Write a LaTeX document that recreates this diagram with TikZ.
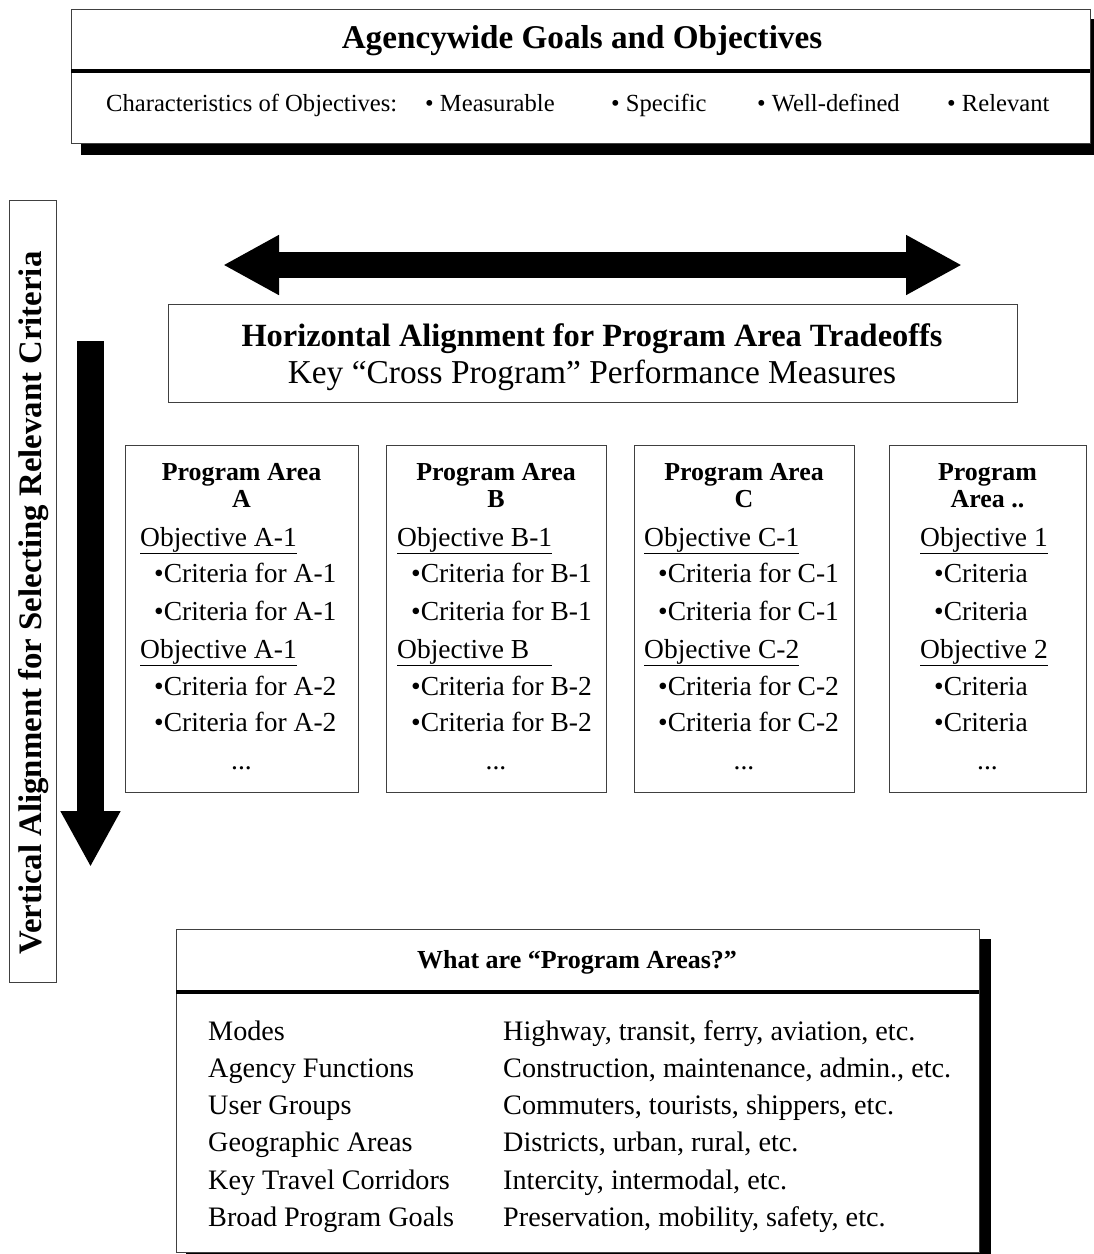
\documentclass[tikz,border=0pt]{standalone}
\usepackage{fontspec}
\setmainfont{Liberation Serif}
\usepackage{tikz}
\usetikzlibrary{arrows.meta, positioning, calc}

\newcommand{\fsTitle}{\fontsize{33.2}{36}\selectfont\bfseries}
\newcommand{\fsChar}{\fontsize{24.6}{26}\selectfont}
\newcommand{\fsHorA}{\fontsize{32.4}{34}\selectfont\bfseries}
\newcommand{\fsHorB}{\fontsize{33.4}{34}\selectfont}
\newcommand{\fsVert}{\fontsize{32.8}{34}\selectfont\bfseries}
\newcommand{\fsHead}{\fontsize{25.9}{30}\selectfont\bfseries}
\newcommand{\fsArea}{\fontsize{27.5}{30}\selectfont}
\newcommand{\fsWhat}{\fontsize{26}{27}\selectfont\bfseries}
\newcommand{\fsRow}{\fontsize{28.2}{30}\selectfont}

\tikzset{
  frame/.style={draw=black!75, line width=1.3pt, fill=white, inner sep=0pt},
  shadefill/.style={fill=black},
  bar/.style={line width=3.5pt},
  txt/.style={inner sep=0pt, anchor=base west},
  ctxt/.style={inner sep=0pt, anchor=base},
  fatline/.style={line width=26pt},
  fattip/.tip={Triangle[length=56pt, width=56pt]},
}

\begin{document}
\begin{tikzpicture}[x=1pt, y=-1pt]
\useasboundingbox (0,0) rectangle (1094,1254);

% top box
\fill[shadefill] (81,19) rectangle (1094,155);
\node[frame, minimum width=1019, minimum height=134, anchor=north west] (goals) at (71,9) {};
\draw[bar] (71,71) -- (1090,71);
\node[ctxt] (goalstitle) at (582,48) {\fsTitle Agencywide Goals and Objectives};
\node[txt] (charlbl) at (106,111) {\fsChar Characteristics of Objectives:};
\node[txt] (chm) at (425,111) {\fsChar \textbullet\ Measurable};
\node[txt] (chs) at (611,111) {\fsChar \textbullet\ Specific};
\node[txt] (chw) at (757,111) {\fsChar \textbullet\ Well-defined};
\node[txt] (chr) at (947,111) {\fsChar \textbullet\ Relevant};

% vertical alignment
\node[frame, minimum width=47, minimum height=782, anchor=north west] (vbox) at (9,200) {};
\node[inner sep=0pt, rotate=90] (vtext) at (34,603) {\fsVert Vertical Alignment for Selecting Relevant Criteria};
\coordinate (vtop) at (90.5,341);
\coordinate (vtip) at (90.5,867);
\draw[fatline, line width=27pt, -{fattip}] (vtop) -- (vtip);

% horizontal alignment
\coordinate (hleft) at (223,265);
\coordinate (hright) at (962,265);
\draw[fatline, {fattip}-{fattip}] (hleft) -- (hright);
\node[frame, minimum width=849, minimum height=98, anchor=north west] (hbox) at (168,304) {};
\node[ctxt] (hline1) at (592,346) {\fsHorA Horizontal Alignment for Program Area Tradeoffs};
\node[ctxt] (hline2) at (592,383) {\fsHorB Key “Cross Program” Performance Measures};

% program areas
\foreach \p/\lx/\rx/\ox/\hda/\hdb/\oba/\obb/\cra/\crb in {
    a/125/358/15/Program Area/A/Objective A-1/Objective A-1/Criteria for A-1/Criteria for A-2,
    b/386/606/11/Program Area/B/Objective B-1/{Objective B\phantom{-1}}/Criteria for B-1/Criteria for B-2,
    c/634/854/10/Program Area/C/Objective C-1/Objective C-2/Criteria for C-1/Criteria for C-2,
    d/889/1086/31/Program/Area ../Objective 1/Objective 2/Criteria/Criteria}
{
  \node[frame, minimum width=\rx-\lx, minimum height=347, anchor=north west] (pa\p) at (\lx,445) {};
  \node[ctxt] (pa\p h1) at ({(\lx+\rx)/2},480) {\fsHead \hda};
  \node[ctxt] (pa\p h2) at ({(\lx+\rx)/2},507) {\fsHead \hdb};
  \node[txt] (pa\p o1) at (\lx+\ox,546) {\fsArea\underline{\oba}};
  \node[txt] (pa\p c1) at (\lx+\ox+14,582) {\fsArea\textbullet\cra};
  \node[txt] (pa\p c2) at (\lx+\ox+14,620) {\fsArea\textbullet\cra};
  \node[txt] (pa\p o2) at (\lx+\ox,658) {\fsArea\underline{\obb}};
  \node[txt] (pa\p c3) at (\lx+\ox+14,695) {\fsArea\textbullet\crb};
  \node[txt] (pa\p c4) at (\lx+\ox+14,731) {\fsArea\textbullet\crb};
  \node[ctxt] (pa\p dd) at ({(\lx+\rx)/2},769) {\fsArea ...};
}

% what are program areas
\fill[shadefill] (186,939) rectangle (991,1262);
\node[frame, minimum width=803, minimum height=323, anchor=north west] (what) at (176,929) {};
\draw[bar] (176,992) -- (979,992);
\node[ctxt] (whattitle) at (577,968) {\fsWhat What are “Program Areas?”};
\foreach \i/\k/\v in {0/Modes/{Highway, transit, ferry, aviation, etc.},
    1/Agency Functions/{Construction, maintenance, admin., etc.},
    2/User Groups/{Commuters, tourists, shippers, etc.},
    3/Geographic Areas/{Districts, urban, rural, etc.},
    4/Key Travel Corridors/{Intercity, intermodal, etc.},
    5/Broad Program Goals/{Preservation, mobility, safety, etc.}}
{
  \node[txt] (key\i) at (208,1040+37.3*\i) {\fsRow \k};
  \node[txt] (val\i) at (503,1040+37.3*\i) {\fsRow \v};
}
\end{tikzpicture}
\end{document}
